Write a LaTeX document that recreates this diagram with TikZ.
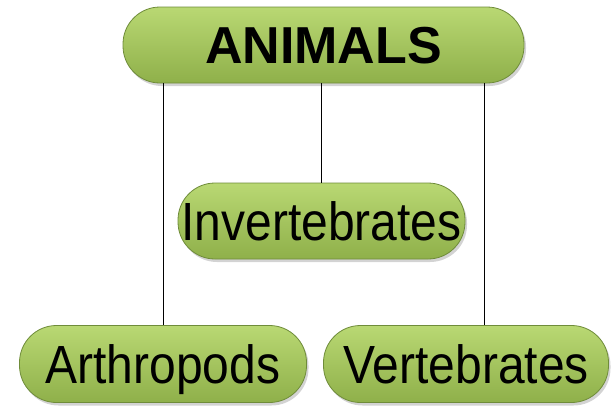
\documentclass[tikz,border=0pt]{standalone}
\usepackage{fontspec}
\setmainfont{Liberation Sans}
\usetikzlibrary{shadows}
\definecolor{pilltop}{HTML}{B9D873}
\definecolor{pillbot}{HTML}{8FB04A}
\definecolor{pillline}{HTML}{6F8C3A}
\newcommand{\tallword}[1]{\scalebox{1}[1.12]{#1}}
\tikzset{
  pill/.style={draw=pillline, line width=0.8pt, top color=pilltop, bottom color=pillbot,
    rounded corners=37pt, minimum height=76pt, inner sep=0pt,
    text height=38pt, text depth=0pt,
    drop shadow={shadow xshift=2pt, shadow yshift=-3pt, opacity=0.35},
    font=\fontsize{48}{54}\selectfont},
  link/.style={draw=black, line width=0.8pt}
}
\begin{document}
\begin{tikzpicture}[x=1pt, y=-1pt]
			\useasboundingbox (0,0) rectangle (613,407);
			
			\node[pill, minimum width=401pt, text height=37pt, font=\fontsize{52}{58}\selectfont\bfseries] (animals) at (323.5,45) {ANIMALS};
			\node[pill, minimum width=287pt] (invert) at (321.5,221) {\tallword{Invertebrates}};
			\node[pill, minimum width=287pt, minimum height=77pt] (arthro) at (163,364) {\tallword{Arthropods}};
			\node[pill, minimum width=285pt, minimum height=77pt] (verte) at (466,364) {\tallword{Vertebrates}};
					% lines to the boxes
			\draw[link] (animals.south -| arthro.north) -- (arthro.north);
			\draw[link] (animals.south -| invert.north) -- (invert.north);
			\draw[link] ([xshift=18pt]verte.north |- animals.south) -- ([xshift=18pt]verte.north);
		\end{tikzpicture}
\end{document}
